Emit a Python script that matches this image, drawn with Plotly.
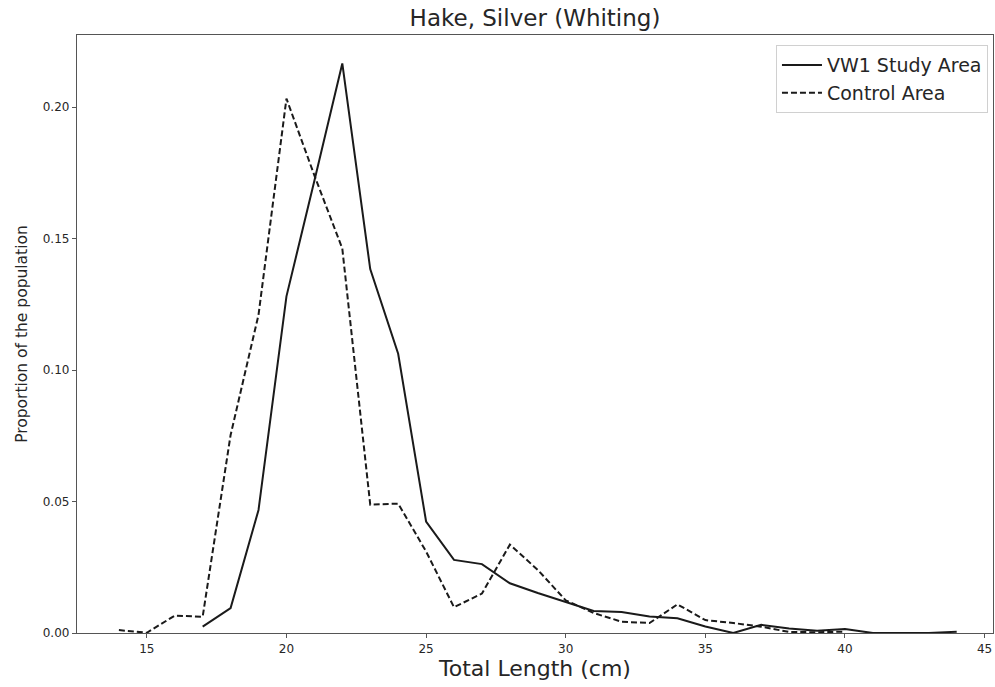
import plotly.graph_objects as go

# Length-frequency proportions for silver hake (whiting)
study_lengths = list(range(17, 45))
study_props = [0.0024, 0.0095, 0.0468, 0.128, 0.172, 0.2166, 0.1384, 0.1062,
               0.0424, 0.0278, 0.0262, 0.0189, 0.0152, 0.0117, 0.0084, 0.0080,
               0.0063, 0.0056, 0.0025, 0.0, 0.0031, 0.0017, 0.0009, 0.0015,
               0.0, 0.0, 0.0, 0.0005]

control_lengths = list(range(14, 41))
control_props = [0.0011, 0.0001, 0.0066, 0.0062, 0.0753, 0.121, 0.2032, 0.174,
                 0.1462, 0.0488, 0.0492, 0.031, 0.0098, 0.015, 0.0336, 0.024,
                 0.0124, 0.0076, 0.0043, 0.0038, 0.0109, 0.0049, 0.0038, 0.0024,
                 0.0004, 0.0003, 0.0005]

x_ticks = [15, 20, 25, 30, 35, 40, 45]
y_ticks = [0.0, 0.05, 0.10, 0.15, 0.20]

FONT = "DejaVu Sans"
TEXT = "#262626"
AXIS = "#555555"

fig = go.Figure()
fig.add_trace(go.Scatter(
    x=study_lengths, y=study_props, mode="lines", name="VW1 Study Area",
    legendgroup="a", line=dict(color="#1a1a1a", width=2)))
fig.add_trace(go.Scatter(
    x=control_lengths, y=control_props, mode="lines", name="Control Area",
    legendgroup="b", line=dict(color="#1a1a1a", width=2, dash="6px,3px")))

fig.update_layout(
    width=995, height=687,
    paper_bgcolor="white", plot_bgcolor="white",
    margin=dict(l=77, r=2, t=35, b=54),
    font=dict(family=FONT, color=TEXT),
    title=dict(text="Hake, Silver (Whiting)", x=(77 + 993) / 2 / 995,
               xanchor="center", y=1 - 18 / 687, yanchor="middle",
               font=dict(size=23, family=FONT, color=TEXT)),
    showlegend=True,
    legend=dict(x=0.9945, y=0.983, xanchor="right", yanchor="top",
                bgcolor="white", bordercolor="#d0d0d0", borderwidth=1,
                font=dict(size=19, family=FONT, color=TEXT),
                traceorder="grouped", tracegroupgap=0, itemwidth=40),
)

fig.update_xaxes(
    range=[12.5, 45.3], tickvals=x_ticks, ticktext=[str(t) for t in x_ticks],
    showgrid=False, zeroline=False, showline=True, linecolor=AXIS, linewidth=1.3,
    mirror=True, ticks="outside", ticklen=4, tickcolor=AXIS,
    tickfont=dict(size=12, family=FONT, color=TEXT),
    title=dict(text="Total Length (cm)", font=dict(size=22, family=FONT, color=TEXT),
               standoff=4))
fig.update_yaxes(
    range=[0, 0.2274], tickvals=y_ticks, ticktext=[f"{t:.2f}" for t in y_ticks],
    showgrid=False, zeroline=False, showline=True, linecolor=AXIS, linewidth=1.3,
    mirror=True, ticks="outside", ticklen=4, tickcolor=AXIS,
    tickfont=dict(size=12, family=FONT, color=TEXT),
    title=dict(text="Proportion of the population",
               font=dict(size=15.5, family=FONT, color=TEXT), standoff=11))

fig.write_html("out.html")
